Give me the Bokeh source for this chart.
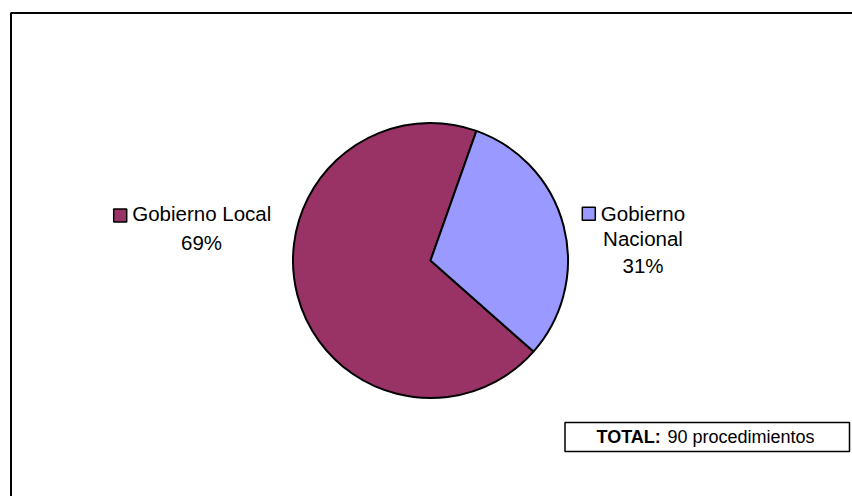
import math
from bokeh.plotting import figure
from bokeh.models import ColumnDataSource, Range1d
from bokeh.core.properties import value
from bokeh.embed import file_html
from bokeh.resources import INLINE

# ---- data ----
categories = ["Gobierno Local", "Gobierno Nacional"]
counts = [62, 28]
colors = ["#993366", "#9999FF"]
total_label = "TOTAL:"
total_text = "90 procedimientos"

total = sum(counts)
pcts = [f"{round(c * 100 / total)}%" for c in counts]

W, H = 852, 496
p = figure(width=W, height=H, output_backend="svg", toolbar_location=None,
           x_range=Range1d(0, W), y_range=Range1d(0, H), min_border=0)
p.axis.visible = False
p.grid.visible = False
p.outline_line_color = None
p.background_fill_color = "white"

FONT = value("Liberation Sans")

# outer frame (top and left edges visible in the window)
p.line(x=[10.5, 10.5, W + 5], y=[-5, 483.5, 483.5], line_color="black", line_width=2)

# pie: slices meet at the boundary at 70.5 deg
cx, cy, r = 430, 236, 137.5
boundary = math.radians(70.5)
angles = [c / total * 2 * math.pi for c in counts]
starts = [boundary, boundary - angles[1]]
ends = [boundary + angles[0], boundary]
src = ColumnDataSource(dict(start=starts, end=ends, color=colors))
p.wedge(x=cx, y=cy, radius=r, start_angle="start", end_angle="end",
        fill_color="color", line_color="black", line_width=2, source=src)

# labels
fs = "20.5px"
p.rect(x=[119.7, 588.3], y=[281, 282.7], width=13, height=13,
       fill_color=colors, line_color="black", line_width=1.5)
p.text(x=[131.7], y=[283], text=[categories[0]], text_font=FONT, text_font_size=fs,
       text_align="left", text_baseline="middle", text_color="black")
p.text(x=[201], y=[254.3], text=[pcts[0]], text_font=FONT, text_font_size=fs,
       text_align="center", text_baseline="middle", text_color="black")
nac_lines = categories[1].split(" ")
p.text(x=[642.5, 642.5, 642.5], y=[282.7, 257.7, 231],
       text=nac_lines + [pcts[1]], text_font=FONT, text_font_size=fs,
       text_align="center", text_baseline="middle", text_color="black")

# total box
p.quad(left=[564.5], right=[849], bottom=[45], top=[74], fill_color="white",
       line_color="black", line_width=1.5)
tfs = 18
p.text(x=[596], y=[59.5], text=[total_label], text_font=FONT, text_font_size=f"{tfs}px",
       text_font_style="bold", text_align="left", text_baseline="middle", text_color="black")
p.text(x=[596 + 3.944 * tfs], y=[59.5], text=[total_text], text_font=FONT,
       text_font_size=f"{tfs}px", text_align="left", text_baseline="middle", text_color="black")

open("out.html", "w").write(file_html(p, INLINE))
